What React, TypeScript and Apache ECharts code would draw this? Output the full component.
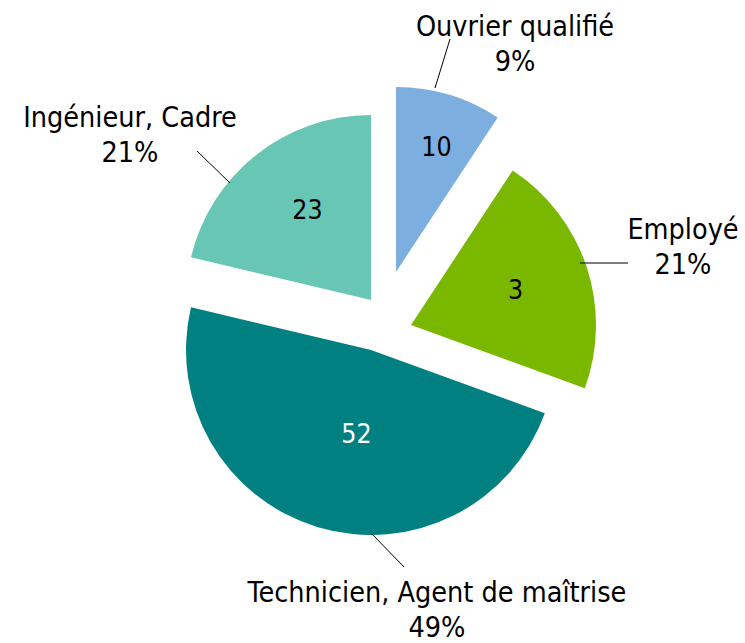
import { useEffect, useRef } from "react";
import * as echarts from "echarts";

// ---- data ----
const categories = [
  "Ouvrier qualifié",
  "Employé",
  "Technicien, Agent de maîtrise",
  "Ingénieur, Cadre",
];
const sliceValues = [10, 23, 52, 23];
const valueLabels = ["10", "3", "52", "23"];
const percentLabels = ["9%", "21%", "49%", "21%"];

// ---- styling / layout ----
const FONT = "'DejaVu Sans Condensed', 'Liberation Sans', sans-serif";
const colors = ["#7DAEE0", "#7AB800", "#008080", "#68C6B4"];
const valueLabelColors = ["#000000", "#000000", "#ffffff", "#000000"];
// every slice is pulled out by its own amount, so each one has its own centre
const sliceCenters: [number, number][] = [
  [396, 272],
  [411, 325],
  [371, 350],
  [371, 300],
];
const RADIUS = 185;
const valueLabelPos: [number, number][] = [
  [436.5, 146],
  [515.5, 289],
  [356.5, 433],
  [307.5, 209],
];
const outerLabelPos: [number, number][] = [
  [515, 43.5],
  [683, 246.5],
  [437, 610],
  [130, 134.5],
];
const leaderLines: [number, number][][] = [
  [[435, 88], [450, 39]],
  [[580, 263], [628, 263]],
  [[372, 534], [404, 567]],
  [[230, 183], [197, 151]],
];

export default function App() {
  const ref = useRef<HTMLDivElement>(null);

  useEffect(() => {
    if (!ref.current) return;
    const chart = echarts.init(ref.current, undefined, { renderer: "svg" });

    const sliceSeries = categories.map((_, i) => ({
      type: "pie",
      center: sliceCenters[i],
      radius: RADIUS,
      startAngle: 90,
      clockwise: true,
      silent: true,
      avoidLabelOverlap: false,
      z: 2,
      emphasis: { disabled: true },
      labelLine: { show: false },
      label: { show: false },
      labelLayout: (p: any) =>
        p.dataIndex === i
          ? {
              x: valueLabelPos[i][0],
              y: valueLabelPos[i][1],
              align: "center",
              verticalAlign: "middle",
            }
          : {},
      data: categories.map((name, j) => ({
        name,
        value: sliceValues[j],
        itemStyle: {
          color: j === i ? colors[j] : "rgba(0,0,0,0)",
          borderWidth: 0,
        },
        label:
          j === i
            ? {
                show: true,
                position: "inside",
                formatter: () => valueLabels[j],
                color: valueLabelColors[j],
                fontSize: 26.5,
                fontFamily: FONT,
              }
            : { show: false },
      })),
    }));

    const labelSeries = {
      type: "pie",
      center: sliceCenters[2],
      radius: RADIUS,
      startAngle: 90,
      clockwise: true,
      silent: true,
      avoidLabelOverlap: false,
      z: 3,
      emphasis: { disabled: true },
      itemStyle: { color: "rgba(0,0,0,0)", borderWidth: 0 },
      label: {
        show: true,
        position: "outside",
        formatter: (p: any) =>
          `${categories[p.dataIndex]}\n${percentLabels[p.dataIndex]}`,
        fontSize: 28.5,
        lineHeight: 35,
        color: "#000000",
        fontFamily: FONT,
        align: "center",
      },
      labelLine: { show: true, lineStyle: { color: "#000000", width: 1 } },
      labelLayout: (p: any) => ({
        x: outerLabelPos[p.dataIndex][0],
        y: outerLabelPos[p.dataIndex][1],
        align: "center",
        verticalAlign: "middle",
        labelLinePoints: leaderLines[p.dataIndex],
      }),
      data: categories.map((name, j) => ({ name, value: sliceValues[j] })),
    };

    chart.setOption({
      animation: false,
      backgroundColor: "#ffffff",
      series: [...sliceSeries, labelSeries],
    });

    return () => chart.dispose();
  }, []);

  return (
    <div
      ref={ref}
      style={{ position: "fixed", left: 0, top: 0, width: 745, height: 643 }}
    />
  );
}
